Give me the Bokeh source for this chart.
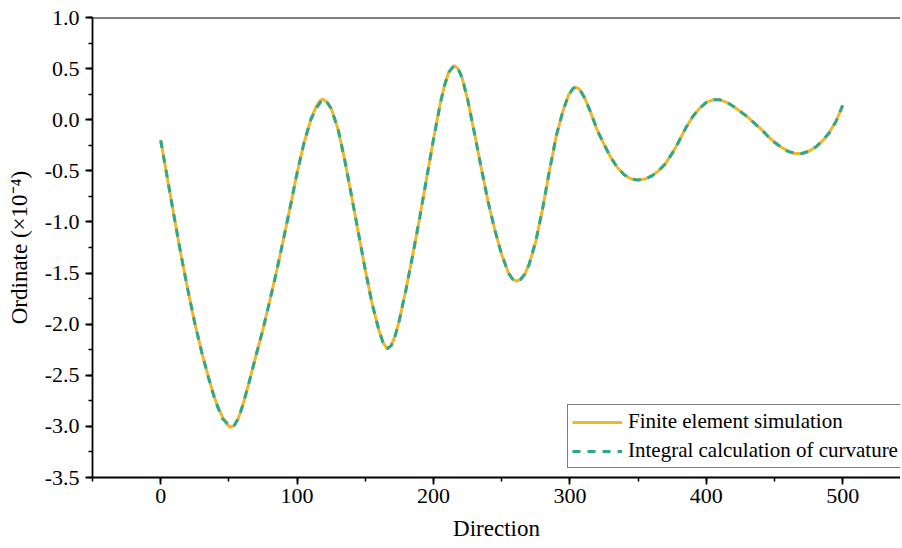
from bokeh.plotting import figure
from bokeh.models import (Range1d, SingleIntervalTicker, PrintfTickFormatter,
                          Span, Legend, LegendItem, ColumnDataSource)
from bokeh.embed import file_html
from bokeh.resources import INLINE

# ---- data ----
direction = [0, 5, 10, 15, 20, 25, 30, 35, 40, 45, 48, 51, 54, 57, 60, 65, 70, 75,
             80, 85, 90, 95, 100, 105, 110, 114, 117, 119, 122, 125, 130, 135, 140,
             145, 150, 155, 160, 163, 166, 169, 172, 175, 180, 185, 190, 195, 200,
             205, 208, 211, 215, 218, 221, 225, 230, 235, 240, 245, 250, 255, 258,
             261, 264, 267, 270, 275, 280, 285, 290, 295, 299, 302, 304, 307, 311, 315,
             320, 325, 330, 335, 340, 345, 350, 355, 360, 365, 370, 375, 380, 385,
             390, 395, 400, 405, 410, 415, 420, 425, 430, 435, 440, 445, 450, 455,
             460, 465, 470, 475, 480, 485, 490, 495, 500]

fe_sim = [-0.20, -0.58, -0.96, -1.33, -1.67, -1.99, -2.27, -2.52, -2.74, -2.90,
          -2.97, -3.01, -2.99, -2.92, -2.80, -2.56, -2.30, -2.05, -1.77, -1.48,
          -1.17, -0.85, -0.52, -0.23, 0.00, 0.13, 0.19, 0.20, 0.17, 0.11, -0.09,
          -0.40, -0.75, -1.11, -1.47, -1.80, -2.06, -2.18, -2.24, -2.21, -2.11,
          -1.96, -1.65, -1.31, -0.95, -0.57, -0.19, 0.16, 0.33, 0.46, 0.53, 0.50,
          0.41, 0.20, -0.13, -0.47, -0.80, -1.08, -1.32, -1.50, -1.56, -1.58,
          -1.56, -1.51, -1.42, -1.19, -0.87, -0.50, -0.16, 0.09, 0.24, 0.30, 0.32, 0.30,
          0.21, 0.08, -0.10, -0.24, -0.37, -0.47, -0.54, -0.58, -0.59, -0.58,
          -0.55, -0.50, -0.43, -0.33, -0.21, -0.08, 0.03, 0.11, 0.17, 0.195, 0.195,
          0.17, 0.13, 0.08, 0.03, -0.03, -0.09, -0.16, -0.22, -0.27, -0.31, -0.33,
          -0.33, -0.31, -0.27, -0.21, -0.13, -0.02, 0.14]

integral_curv = [-0.20, -0.58, -0.96, -1.33, -1.67, -1.99, -2.27, -2.52, -2.75, -2.92,
                 -2.96, -3.00, -2.99, -2.92, -2.80, -2.56, -2.30, -2.05, -1.77, -1.48,
                 -1.17, -0.85, -0.52, -0.23, 0.00, 0.11, 0.17, 0.20, 0.17, 0.11, -0.09,
                 -0.40, -0.75, -1.11, -1.47, -1.80, -2.06, -2.18, -2.24, -2.21, -2.11,
                 -1.96, -1.65, -1.31, -0.95, -0.57, -0.19, 0.16, 0.33, 0.46, 0.53, 0.50,
                 0.41, 0.20, -0.13, -0.47, -0.80, -1.08, -1.32, -1.50, -1.56, -1.58,
                 -1.56, -1.51, -1.42, -1.19, -0.87, -0.50, -0.16, 0.09, 0.24, 0.30, 0.32, 0.30,
                 0.21, 0.08, -0.10, -0.24, -0.37, -0.47, -0.54, -0.58, -0.59, -0.58,
                 -0.55, -0.50, -0.43, -0.33, -0.21, -0.08, 0.03, 0.11, 0.17, 0.195, 0.195,
                 0.17, 0.13, 0.08, 0.03, -0.03, -0.09, -0.16, -0.22, -0.27, -0.31, -0.33,
                 -0.33, -0.31, -0.27, -0.21, -0.13, -0.02, 0.14]

series_names = ["Finite element simulation", "Integral calculation of curvature"]
x_title = "Direction"
y_title = "Ordinate (\u00d710\u207b\u2074)"

FONT = "Liberation Serif"
YELLOW = "#F2B62B"
TEAL = "#2CA88E"

src = ColumnDataSource(dict(x=direction, fe=fe_sim, ic=integral_curv))

p = figure(width=900, height=546, output_backend="svg", toolbar_location=None,
           x_range=Range1d(-50, 542.4), y_range=Range1d(-3.5, 1.0),
           min_border_left=92, min_border_right=0, min_border_top=17,
           min_border_bottom=69)

p.outline_line_color = None
p.grid.visible = False
p.background_fill_color = "white"
p.border_fill_color = "white"

r1 = p.line("x", "fe", source=src, line_color=YELLOW, line_width=3)
r2 = p.line("x", "ic", source=src, line_color=TEAL, line_width=3, line_dash="8 7")

# top frame line
p.add_layout(Span(location=1.0, dimension="width", line_color="black", line_width=1.8))

for ax in (p.xaxis[0], p.yaxis[0]):
    ax.axis_line_width = 1.8
    ax.axis_line_color = "black"
    ax.major_tick_line_width = 1.8
    ax.minor_tick_line_width = 1.5
    ax.major_tick_out = 7
    ax.major_tick_in = 0
    ax.minor_tick_out = 4
    ax.minor_tick_in = 0
    ax.major_label_text_font = FONT
    ax.major_label_text_font_size = "22px"
    ax.major_label_text_color = "black"
    ax.axis_label_text_font = FONT
    ax.axis_label_text_font_size = "23px"
    ax.axis_label_text_font_style = "normal"
    ax.axis_label_text_color = "black"

p.xaxis[0].ticker = SingleIntervalTicker(interval=100, num_minor_ticks=2)
p.yaxis[0].ticker = SingleIntervalTicker(interval=0.5, num_minor_ticks=2)
p.yaxis[0].formatter = PrintfTickFormatter(format="%.1f")
p.xaxis[0].axis_label = x_title
p.yaxis[0].axis_label = y_title
p.xaxis[0].major_label_standoff = 4
p.xaxis[0].axis_label_standoff = 10
p.yaxis[0].major_label_standoff = 6
p.yaxis[0].axis_label_standoff = 10

legend = Legend(items=[LegendItem(label=series_names[0], renderers=[r1]),
                       LegendItem(label=series_names[1], renderers=[r2])],
                location=(475, 9))
legend.label_text_font = FONT
legend.label_text_font_size = "21px"
legend.label_text_color = "black"
legend.glyph_width = 50
legend.glyph_height = 22
legend.label_height = 22
legend.label_standoff = 6
legend.spacing = 4
legend.padding = 4
legend.margin = 0
legend.border_line_color = "black"
legend.border_line_width = 1
legend.background_fill_color = "white"
legend.background_fill_alpha = 1.0
p.add_layout(legend, "center")

open("out.html", "w").write(file_html(p, INLINE))
